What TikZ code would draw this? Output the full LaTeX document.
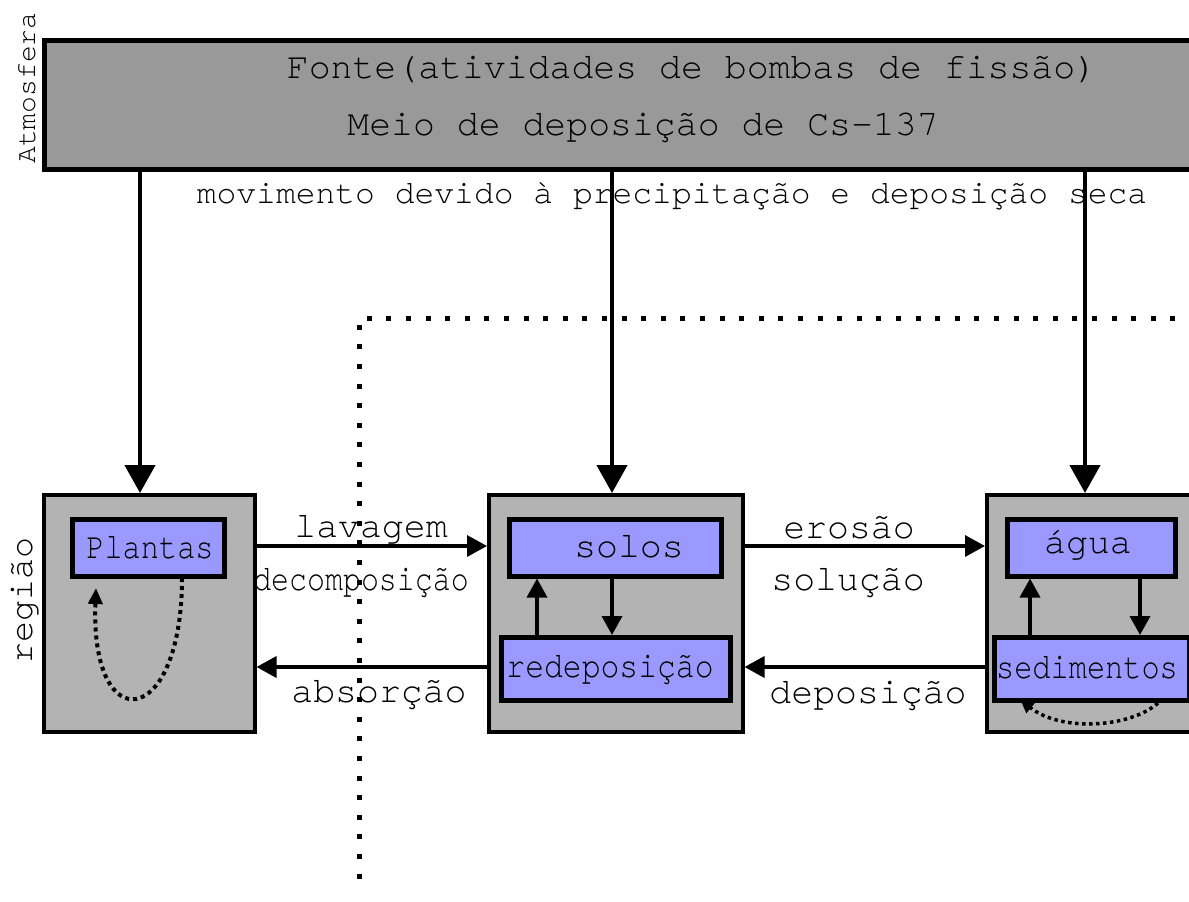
\documentclass[tikz,border=0pt]{standalone}
\usepackage{fontspec}
\setmainfont{texgyrecursor-regular.otf}[Ligatures={NoCommon}]
\usetikzlibrary{arrows.meta}
\definecolor{topgray}{HTML}{999999}
\definecolor{boxgray}{HTML}{B3B3B3}
\definecolor{inblue}{HTML}{9999FF}
\tikzset{
  topbox/.style={draw=black, line width=4.5pt, fill=topgray, rectangle, inner sep=0pt},
  outerbox/.style={draw=black, line width=3.5pt, fill=boxgray, rectangle, inner sep=0pt},
  innerbox/.style={draw=black, line width=4.5pt, fill=inblue, rectangle, inner sep=0pt},
  bigtxt/.style={font=\fontsize{36.5}{40}\selectfont, anchor=base, inner sep=0pt},
  midtxt/.style={font=\fontsize{33}{38}\selectfont, anchor=base, inner sep=0pt},
  vertarrow/.style={line width=4.5pt, -{Triangle[length=28pt, width=30pt]}},
  horarrow/.style={line width=3.5pt, -{Triangle[length=20pt, width=21pt]}},
  smallarrow/.style={line width=3.5pt, -{Triangle[length=19pt, width=20pt]}},
  loopdots/.style={line width=4pt, dash pattern=on 4pt off 4pt, -{Triangle[length=16pt, width=14pt]}},
  borderdots/.style={line width=5pt, dash pattern=on 5pt off 14.6pt}
}
\begin{document}
\begin{tikzpicture}[x=1pt, y=-1pt]
\useasboundingbox (0,0) rectangle (1189,902);
\clip (0,0) rectangle (1189,902);
\fill[white] (0,0) rectangle (1189,902);

% top source box
\node[topbox, minimum width=1260pt, minimum height=129pt, anchor=north west] (src) at (42,38) {};
\node[bigtxt] (fonte) at (692,78) {Fonte(atividades de bombas de fissão)};
\node[bigtxt] (meio) at (643,135) {Meio de deposição de Cs-137};
\node[font=\fontsize{28}{32}\selectfont, rotate=90, anchor=base, inner sep=0pt] (atm) at (35,88) {Atmosfera};

% outer boxes
\node[outerbox, minimum width=211pt, minimum height=237pt, anchor=north west] (plbox) at (42,493) {};
\node[outerbox, minimum width=254pt, minimum height=237pt, anchor=north west] (sobox) at (487,493) {};
\node[outerbox, minimum width=260pt, minimum height=237pt, anchor=north west] (agbox) at (985,493) {};

% inner boxes
\node[innerbox, minimum width=152pt, minimum height=57pt, anchor=north west] (plantas) at (70,517) {};
\node[innerbox, minimum width=212pt, minimum height=57pt, anchor=north west] (solos) at (507,517) {};
\node[innerbox, minimum width=229pt, minimum height=63pt, anchor=north west] (redep) at (499,635) {};
\node[innerbox, minimum width=168pt, minimum height=57pt, anchor=north west] (agua) at (1005,517) {};
\node[innerbox, minimum width=195pt, minimum height=63pt, anchor=north west] (sed) at (992,635) {};

\node[bigtxt] (tplantas) at (150,558) {\scalebox{0.83}[1]{Plantas}};
\node[bigtxt] (tsolos) at (629,557) {solos};
\node[bigtxt] (tredep) at (610,677) {\scalebox{0.86}[1]{redeposição}};
\node[bigtxt] (tagua) at (1088,553) {água};
\node[bigtxt] (tsed) at (1087,678) {\scalebox{0.83}[1]{sedimentos}};

% region label
\node[font=\fontsize{35}{40}\selectfont, rotate=90, anchor=base, inner sep=0pt] (reg) at (32,600) {região};

% dotted border
\coordinate (dc) at (359,318);
\coordinate (dr) at (1195,318);
\coordinate (db) at (359,892);
\draw[borderdots] (dr) -- (dc) -- (db);

% vertical arrows
\coordinate (x1) at (140,0);
\coordinate (x2) at (612,0);
\coordinate (x3) at (1085,0);
\draw[vertarrow] (src.south -| x1) -- (plbox.north -| x1);
\draw[vertarrow] (src.south -| x2) -- (sobox.north -| x2);
\draw[vertarrow] (src.south -| x3) -- (agbox.north -| x3);
\node[midtxt] (mov) at (672,203) {movimento devido à precipitação e deposição seca};

% horizontal arrows
\coordinate (yt) at (0,546);
\coordinate (yb) at (0,667);
\draw[horarrow] (plbox.east |- yt) -- (sobox.west |- yt);
\draw[horarrow] (sobox.west |- yb) -- (plbox.east |- yb);
\draw[horarrow] (sobox.east |- yt) -- (agbox.west |- yt);
\draw[horarrow] (agbox.west |- yb) -- (sobox.east |- yb);

\node[bigtxt] (lav) at (371,537) {lavagem};
\node[bigtxt] (dec) at (361,590) {\scalebox{0.82}[1]{decomposição}};
\node[bigtxt] (abs) at (379,702) {absorção};
\node[bigtxt] (ero) at (849,538) {erosão};
\node[bigtxt] (sol) at (848,590) {solução};
\node[bigtxt] (dep) at (868,703) {deposição};

% inner arrows
\coordinate (ix1) at (612,0);
\coordinate (ix2) at (537,0);
\coordinate (ix3) at (1140,0);
\coordinate (ix4) at (1030,0);
\draw[smallarrow] (solos.south -| ix1) -- (redep.north -| ix1);
\draw[smallarrow] (redep.north -| ix2) -- (solos.south -| ix2);
\draw[smallarrow] (agua.south -| ix3) -- (sed.north -| ix3);
\draw[smallarrow] (sed.north -| ix4) -- (agua.south -| ix4);

% dotted loops
\coordinate (l1s) at (182,578);
\coordinate (l1e) at (96,588);
\draw[loopdots] (l1s) .. controls (182,730) and (90,740) .. (l1e);
\coordinate (l2s) at (1158,703);
\coordinate (l2e) at (1020,699);
\draw[line width=3.5pt, dash pattern=on 3.5pt off 3.5pt, -{Triangle[length=14pt, width=13pt]}] (l2s) .. controls (1130,728) and (1060,732) .. (l2e);
\end{tikzpicture}
\end{document}
